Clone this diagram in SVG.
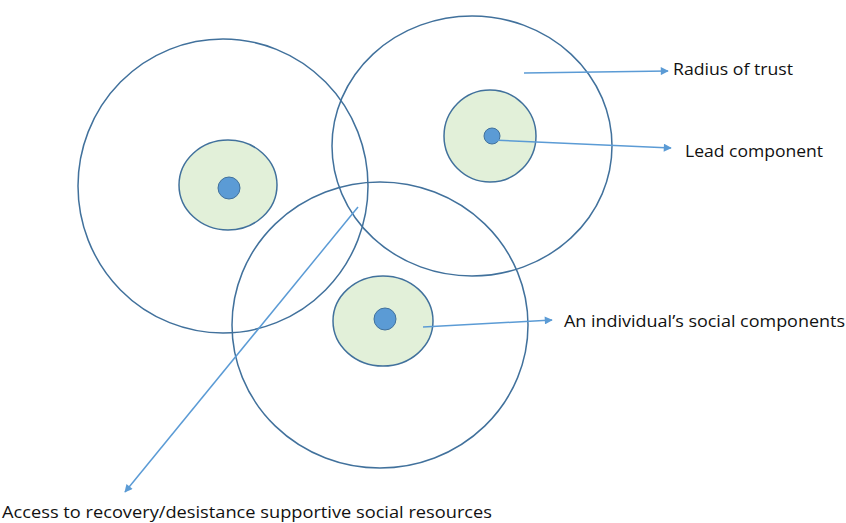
<svg xmlns="http://www.w3.org/2000/svg" width="846" height="523" viewBox="0 0 846 523">
<style>
.big{fill:none;stroke:#41719C;stroke-width:1.5}
.inner{fill:#E2F0D9;stroke:#41719C;stroke-width:1.5}
.dot{fill:#5B9BD5;stroke:#41719C;stroke-width:1}
.arr{stroke:#5B9BD5;stroke-width:1.5;fill:none;marker-end:url(#ah)}
text{font-family:"Open Sans","Liberation Sans",sans-serif;font-size:16px;fill:#111}
</style>
<defs>
<marker id="ah" viewBox="0 0 10 10" refX="9" refY="5" markerWidth="10" markerHeight="8" markerUnits="userSpaceOnUse" orient="auto"><path d="M0,0 L10,5 L0,10 z" fill="#5B9BD5"/></marker>
</defs>
<rect width="846" height="523" fill="#fff"/>
<g id="node-left">
<ellipse class="big" cx="223" cy="186" rx="145" ry="147"/>
<ellipse class="inner" cx="228" cy="185" rx="49" ry="45"/>
<circle class="dot" cx="229" cy="188" r="11"/>
</g>
<g id="node-right">
<ellipse class="big" cx="472" cy="146" rx="140" ry="130"/>
<ellipse class="inner" cx="490" cy="136" rx="46" ry="46"/>
<circle class="dot" cx="492" cy="136" r="8"/>
</g>
<g id="node-bottom">
<ellipse class="big" cx="380" cy="325" rx="148" ry="143"/>
<ellipse class="inner" cx="383" cy="321" rx="50" ry="45"/>
<circle class="dot" cx="385" cy="319" r="11"/>
</g>
<g id="connectors">
<line class="arr" x1="524" y1="73" x2="668" y2="71"/>
<line class="arr" x1="492" y1="140" x2="671" y2="148"/>
<line class="arr" x1="423" y1="327" x2="552" y2="320"/>
<line class="arr" x1="358" y1="207" x2="125" y2="492"/>
</g>
<g id="labels">
<text x="673" y="75" textLength="120" lengthAdjust="spacingAndGlyphs">Radius of trust</text>
<text x="685" y="157" textLength="138" lengthAdjust="spacingAndGlyphs">Lead component</text>
<text x="564" y="327" textLength="281" lengthAdjust="spacingAndGlyphs">An individual’s social components</text>
<text x="2" y="518" textLength="490" lengthAdjust="spacingAndGlyphs">Access to recovery/desistance supportive social resources</text>
</g>
</svg>
